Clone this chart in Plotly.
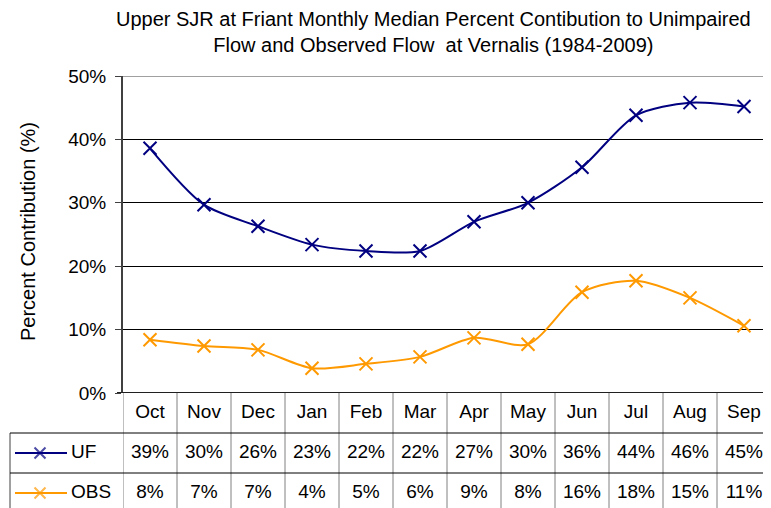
import plotly.graph_objects as go

months = ["Oct", "Nov", "Dec", "Jan", "Feb", "Mar", "Apr", "May", "Jun", "Jul", "Aug", "Sep"]
uf = [38.6, 29.7, 26.3, 23.4, 22.4, 22.4, 27.0, 30.0, 35.6, 43.8, 45.8, 45.2]
obs = [8.4, 7.4, 6.8, 3.9, 4.6, 5.7, 8.7, 7.7, 15.9, 17.7, 15.0, 10.6]
series_names = ["UF", "OBS"]
series_colors = ["#000080", "#FF9900"]
y_ticks = [0, 10, 20, 30, 40, 50]

# the page body adds an 8px offset, so the figure is sized to fill the rest of the window
OFF = 8
W, H = 771 - OFF, 508 - OFF
PX_L, PX_T, PX_B = 123, 76, 393     # reference window coordinates
ROW_H = 40
FONT = "Liberation Sans, Arial, sans-serif"
FS = 19

def px_x(p):
    return (p - OFF) / W

def px_y(p):
    return (H - (p - OFF)) / H

fig = go.Figure()

for name, vals, col in zip(series_names, [uf, obs], series_colors):
    fig.add_trace(go.Scatter(
        x=months, y=vals, name=name, mode="lines+markers",
        line=dict(color=col, width=2, shape="spline", smoothing=0.8),
        marker=dict(symbol="x-thin", size=13, line=dict(color=col, width=2)),
        xaxis="x", yaxis="y", showlegend=False, cliponaxis=False,
    ))

fig.add_trace(go.Scatter(
    x=months, y=[0] * len(months), text=months, mode="text",
    textfont=dict(family=FONT, size=FS, color="black"),
    xaxis="x", yaxis="y2", showlegend=False, hoverinfo="skip"))
for r, vals in enumerate([uf, obs], start=1):
    fig.add_trace(go.Scatter(
        x=months, y=[r] * len(months), text=[f"{round(v)}%" for v in vals], mode="text",
        textfont=dict(family=FONT, size=FS, color="black"),
        xaxis="x", yaxis="y2", showlegend=False, hoverinfo="skip"))

# legend keys in the table row headers (x3 axis is in window pixels)
for r, (name, col) in enumerate(zip(series_names, series_colors), start=1):
    fig.add_trace(go.Scatter(
        x=[15, 40, 67], y=[r, r, r], mode="lines+markers",
        line=dict(color=col, width=2),
        marker=dict(symbol="x-thin", size=[0, 11, 0], line=dict(color=col, width=2)),
        xaxis="x3", yaxis="y2", showlegend=False, hoverinfo="skip"))
    fig.add_trace(go.Scatter(
        x=[71], y=[r], text=[name], mode="text", textposition="middle right",
        textfont=dict(family=FONT, size=FS, color="black"),
        xaxis="x3", yaxis="y2", showlegend=False, hoverinfo="skip"))

shapes = []
y_top_tbl = px_y(PX_B)
for i in range(len(months) + 1):
    shapes.append(dict(type="line", xref="x", yref="paper", x0=i - 0.5, x1=i - 0.5,
                       y0=0, y1=y_top_tbl, line=dict(color="#808080", width=1)))
shapes.append(dict(type="line", xref="paper", yref="y2", x0=px_x(10), x1=px_x(10),
                   y0=0.5, y1=2.6, line=dict(color="#404040", width=1)))
for yb in [0.5, 1.5]:
    shapes.append(dict(type="line", xref="paper", yref="y2", x0=px_x(10), x1=1,
                       y0=yb, y1=yb, line=dict(color="black", width=1)))
shapes.append(dict(type="line", xref="paper", yref="y", x0=px_x(PX_L), x1=1,
                   y0=50, y1=50, line=dict(color="#A0A0A0", width=2)))
shapes.append(dict(type="line", xref="paper", yref="y", x0=px_x(PX_L - 6), x1=1,
                   y0=0, y1=0, line=dict(color="#202020", width=2)))

y2_bottom = -0.5 + (H + OFF - PX_B) / ROW_H

fig.update_layout(
    width=W, height=H,
    margin=dict(l=0, r=0, t=0, b=0, autoexpand=False),
    paper_bgcolor="white", plot_bgcolor="white",
    font=dict(family=FONT, size=FS, color="black"),
    xaxis=dict(domain=[px_x(PX_L), 1], type="category", range=[-0.5, 11.5],
               showticklabels=False, showgrid=False, zeroline=False,
               showline=False, ticks="", anchor="y", fixedrange=True),
    yaxis=dict(domain=[px_y(PX_B), px_y(PX_T)], range=[0, 50], tickvals=y_ticks,
               ticktext=[f"{v}%" for v in y_ticks], ticks="outside", ticklen=6,
               tickcolor="#404040", showgrid=True, gridcolor="black", gridwidth=1,
               zeroline=False, showline=True, linecolor="#404040", linewidth=2,
               tickfont=dict(size=FS), ticklabelstandoff=5, anchor="x"),
    yaxis2=dict(domain=[0, px_y(PX_B)], range=[y2_bottom, -0.5], showgrid=False,
                zeroline=False, showticklabels=False, showline=False, anchor="x"),
    xaxis3=dict(domain=[0, px_x(PX_L)], range=[OFF, PX_L], showgrid=False,
                zeroline=False, showticklabels=False, showline=False, anchor="y2"),
    shapes=shapes,
    annotations=[
        dict(text="Upper SJR at Friant Monthly Median Percent Contibution to Unimpaired<br>"
                  "Flow and Observed Flow  at Vernalis (1984-2009)",
             xref="paper", yref="paper", x=px_x(434), y=px_y(32), xanchor="center",
             yanchor="middle", showarrow=False, font=dict(size=20), align="center"),
        dict(text="Percent Contribution (%)", textangle=-90, xref="paper", yref="paper",
             x=px_x(28), y=px_y(232), xanchor="center", yanchor="middle",
             showarrow=False, font=dict(size=20)),
    ],
)

fig.write_html("out.html")
